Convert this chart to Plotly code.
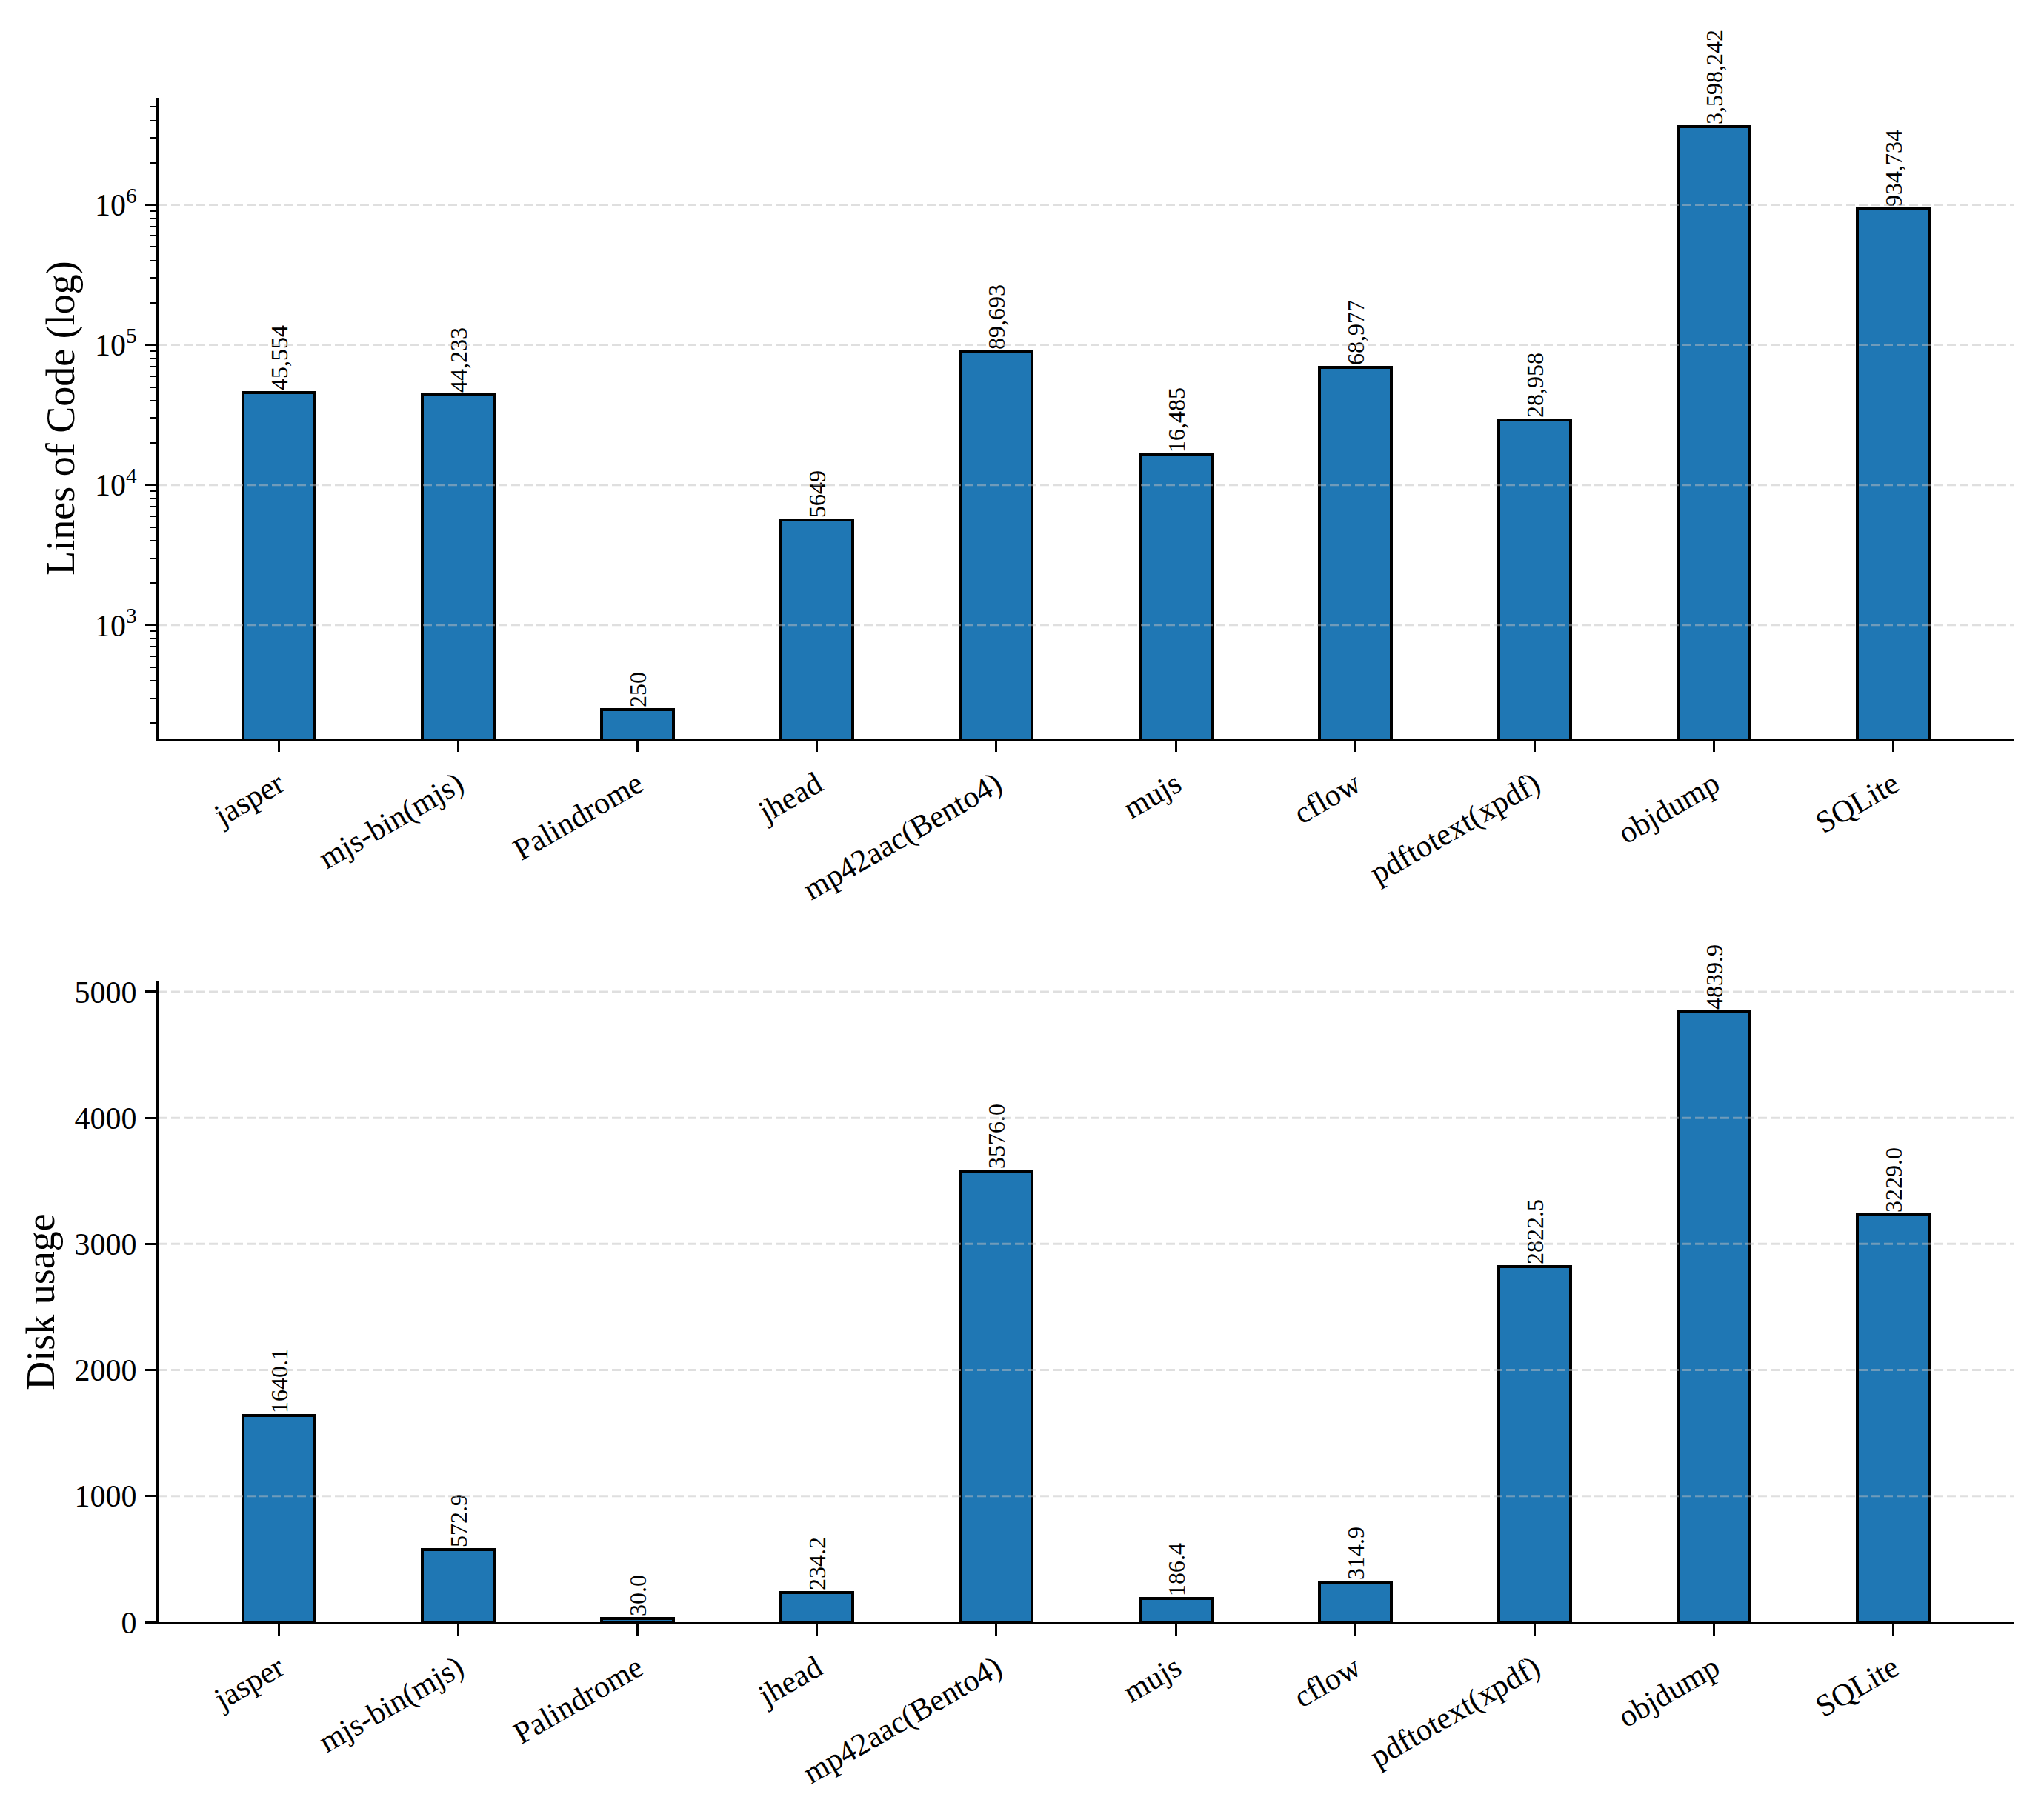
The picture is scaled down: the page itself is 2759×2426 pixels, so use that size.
import math
import plotly.graph_objects as go

programs = ['jasper', 'mjs-bin(mjs)', 'Palindrome', 'jhead', 'mp42aac(Bento4)',
            'mujs', 'cflow', 'pdftotext(xpdf)', 'objdump', 'SQLite']
lines_of_code = [45554, 44233, 250, 5649, 89693, 16485, 68977, 28958, 3598242, 934734]
loc_labels = ['45,554', '44,233', '250', '5649', '89,693', '16,485', '68,977',
              '28,958', '3,598,242', '934,734']
disk_usage = [1640.1, 572.9, 30.0, 234.2, 3576.0, 186.4, 314.9, 2822.5, 4839.9, 3229.0]
disk_labels = [f"{v:.1f}" for v in disk_usage]

log_ticks = [1e3, 1e4, 1e5, 1e6]
log_ticktext = ['10<sup>3</sup>', '10<sup>4</sup>', '10<sup>5</sup>', '10<sup>6</sup>']
lin_ticks = [0, 1000, 2000, 3000, 4000, 5000]

FONT = 'Liberation Serif, Times New Roman, serif'
BLUE = '#1f77b4'
GRID = 'rgba(192,192,192,0.5)'

fig = go.Figure()

bar_style = dict(width=0.4, marker=dict(color=BLUE, line=dict(color='black', width=4)),
                 textposition='outside', textangle=-90, cliponaxis=False,
                 constraintext='none', textfont=dict(family=FONT, size=32, color='black'),
                 showlegend=False, hoverinfo='skip')

fig.add_trace(go.Bar(x=programs, y=lines_of_code, text=loc_labels,
                     xaxis='x', yaxis='y', **bar_style))
fig.add_trace(go.Bar(x=programs, y=disk_usage, text=disk_labels,
                     xaxis='x2', yaxis='y2', **bar_style))

# log axis range like matplotlib autoscale (5% margin in log space)
llo = math.log10(min(lines_of_code))
lhi = math.log10(max(lines_of_code))
span = lhi - llo
log_range = [llo - 0.05 * span, lhi + 0.05 * span]

minor_vals = [m * 10 ** k for k in range(2, 7) for m in range(2, 10)]

axis_common = dict(showline=True, linecolor='black', linewidth=3, ticks='outside',
                   ticklen=15, tickwidth=3, tickcolor='black', mirror=False,
                   zeroline=False, ticklabelstandoff=3, showgrid=False,
                   tickfont=dict(family=FONT, size=42, color='black'))
title_font = dict(family=FONT, size=54, color='black')

# page body has an 8px default margin, so the figure is a bit smaller than the window
fig.update_layout(
    width=2743, height=2410,
    paper_bgcolor='white', plot_bgcolor='white',
    margin=dict(l=206, r=33, t=124, b=228),
    font=dict(family=FONT, color='black'),
    bargap=0,
    xaxis=dict(domain=[0, 1], anchor='y', range=[-0.67, 9.67], tickangle=-30,
               automargin=False, **axis_common),
    yaxis=dict(domain=[0.5797, 1], anchor='x', type='log', range=log_range,
               tickvals=log_ticks, ticktext=log_ticktext, automargin=True,
               title=dict(text='Lines of Code (log)', font=title_font, standoff=10),
               minor=dict(tickmode='array', tickvals=minor_vals, ticks='outside',
                          ticklen=8, tickwidth=2, tickcolor='black', showgrid=False),
               **axis_common),
    xaxis2=dict(domain=[0, 1], anchor='y2', range=[-0.67, 9.67], tickangle=-30,
                automargin=False, **axis_common),
    yaxis2=dict(domain=[0, 0.4203], anchor='x2', range=[0, max(disk_usage) * 1.05],
                tickvals=lin_ticks, automargin=True,
                title=dict(text='Disk usage', font=title_font, standoff=10),
                **axis_common),
)

# dashed grid lines drawn over the bars (the one at 0 sits under the axis line)
for v in log_ticks:
    fig.add_shape(type='line', xref='x domain', yref='y', x0=0, x1=1, y0=v, y1=v,
                  line=dict(color=GRID, width=3, dash='12px,5px'), layer='above')
for v in lin_ticks[1:]:
    fig.add_shape(type='line', xref='x2 domain', yref='y2', x0=0, x1=1, y0=v, y1=v,
                  line=dict(color=GRID, width=3, dash='12px,5px'), layer='above')

fig.write_html("out.html")
